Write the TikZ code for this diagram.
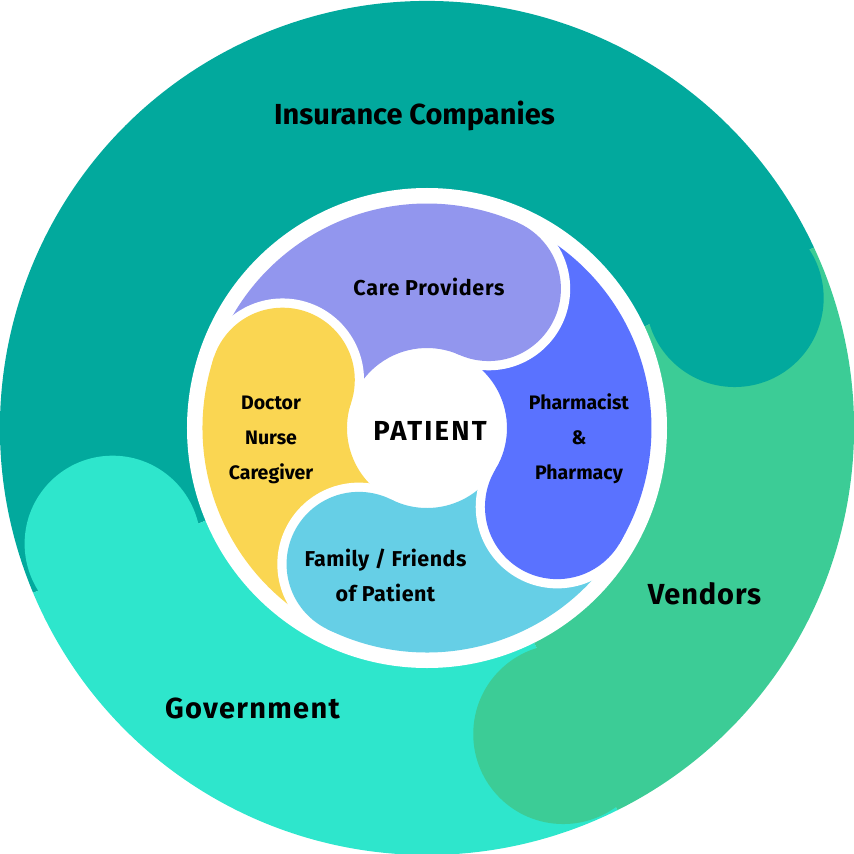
\documentclass[tikz,border=0pt]{standalone}
\usepackage{fontspec}
\setmainfont{Fira Sans}
\definecolor{insc}{RGB}{2,169,157}
\definecolor{venc}{RGB}{60,204,150}
\definecolor{govc}{RGB}{46,230,204}
\definecolor{lavc}{RGB}{146,150,238}
\definecolor{bluc}{RGB}{90,114,255}
\definecolor{lbc}{RGB}{102,207,230}
\definecolor{yelc}{RGB}{250,214,82}
\newcommand\ringsector[5]{%
  \fill[#1] (#2:#4) arc[start angle=#2,end angle=#3,radius=#4] -- (#3:#5) arc[start angle=#3,end angle=#2,radius=#5] -- cycle;}
% inner cap: colour, angle
\newcommand\innercap[2]{%
  \begin{scope}
    \clip[rotate=#2] (0,0) rectangle (320,-320);
    \fill[white] (#2:152.25) circle[radius=81.5];
  \end{scope}
  \fill[#1] (#2:152.25) circle[radius=72.25];}
\newcommand\labfont[3]{\bfseries\fontsize{#1}{#2}\selectfont\addfontfeatures{LetterSpace=#3}}
\tikzset{
  lab/.style={text=black, inner sep=0pt, align=center}
}
\begin{document}
\begin{tikzpicture}[x=1pt,y=1pt]
\useasboundingbox (-427,-426) rectangle (427,428);
% outer bands
\ringsector{insc}{25}{202.7}{228}{427}
\ringsector{govc}{202.7}{296.5}{228}{427}
\ringsector{venc}{296.5}{385}{228}{427}
% outer caps
\fill[insc] (22.9:334) circle[radius=89];
\fill[govc] (200.2:335) circle[radius=88];
\fill[venc] (294:335) circle[radius=90];
% white ring
\fill[white] (0,0) circle[radius=240];
% inner bands
\ringsector{lavc}{66.1}{161.6}{80}{224.5}
\ringsector{yelc}{161.6}{243.4}{80}{224.5}
\ringsector{lbc}{243.4}{328.8}{80}{224.5}
\ringsector{bluc}{328.8}{426.1}{80}{224.5}
% inner caps
\innercap{lavc}{66.1}
\innercap{bluc}{328.8}
\innercap{lbc}{243.4}
\innercap{yelc}{161.6}
% labels
\node[lab, font=\labfont{29}{34}{0}] (insurance) at (-12.5,312) {Insurance Companies};
\node[lab, font=\labfont{29}{34}{3}] (vendors) at (277.5,-166) {Vendors};
\node[lab, font=\labfont{29}{34}{4.5}] (government) at (-174.5,-280) {Government};
\node[lab, font=\labfont{21.5}{35}{3.4}] (care) at (2,141) {Care Providers};
\node[lab, font=\labfont{19.5}{35}{0}] (pharm) at (152,-11) {Pharmacist\\\&\\Pharmacy};
\node[lab, font=\labfont{19.5}{35}{0}] (doctor) at (-156,-12) {Doctor\\Nurse\\Caregiver};
\node[lab, font=\labfont{21.5}{35}{2.2}] (family) at (-41.5,-147.5) {Family / Friends\\of Patient};
\node[lab, font=\labfont{27.5}{32}{8}] (patient) at (3,-3) {PATIENT};
\end{tikzpicture}
\end{document}
